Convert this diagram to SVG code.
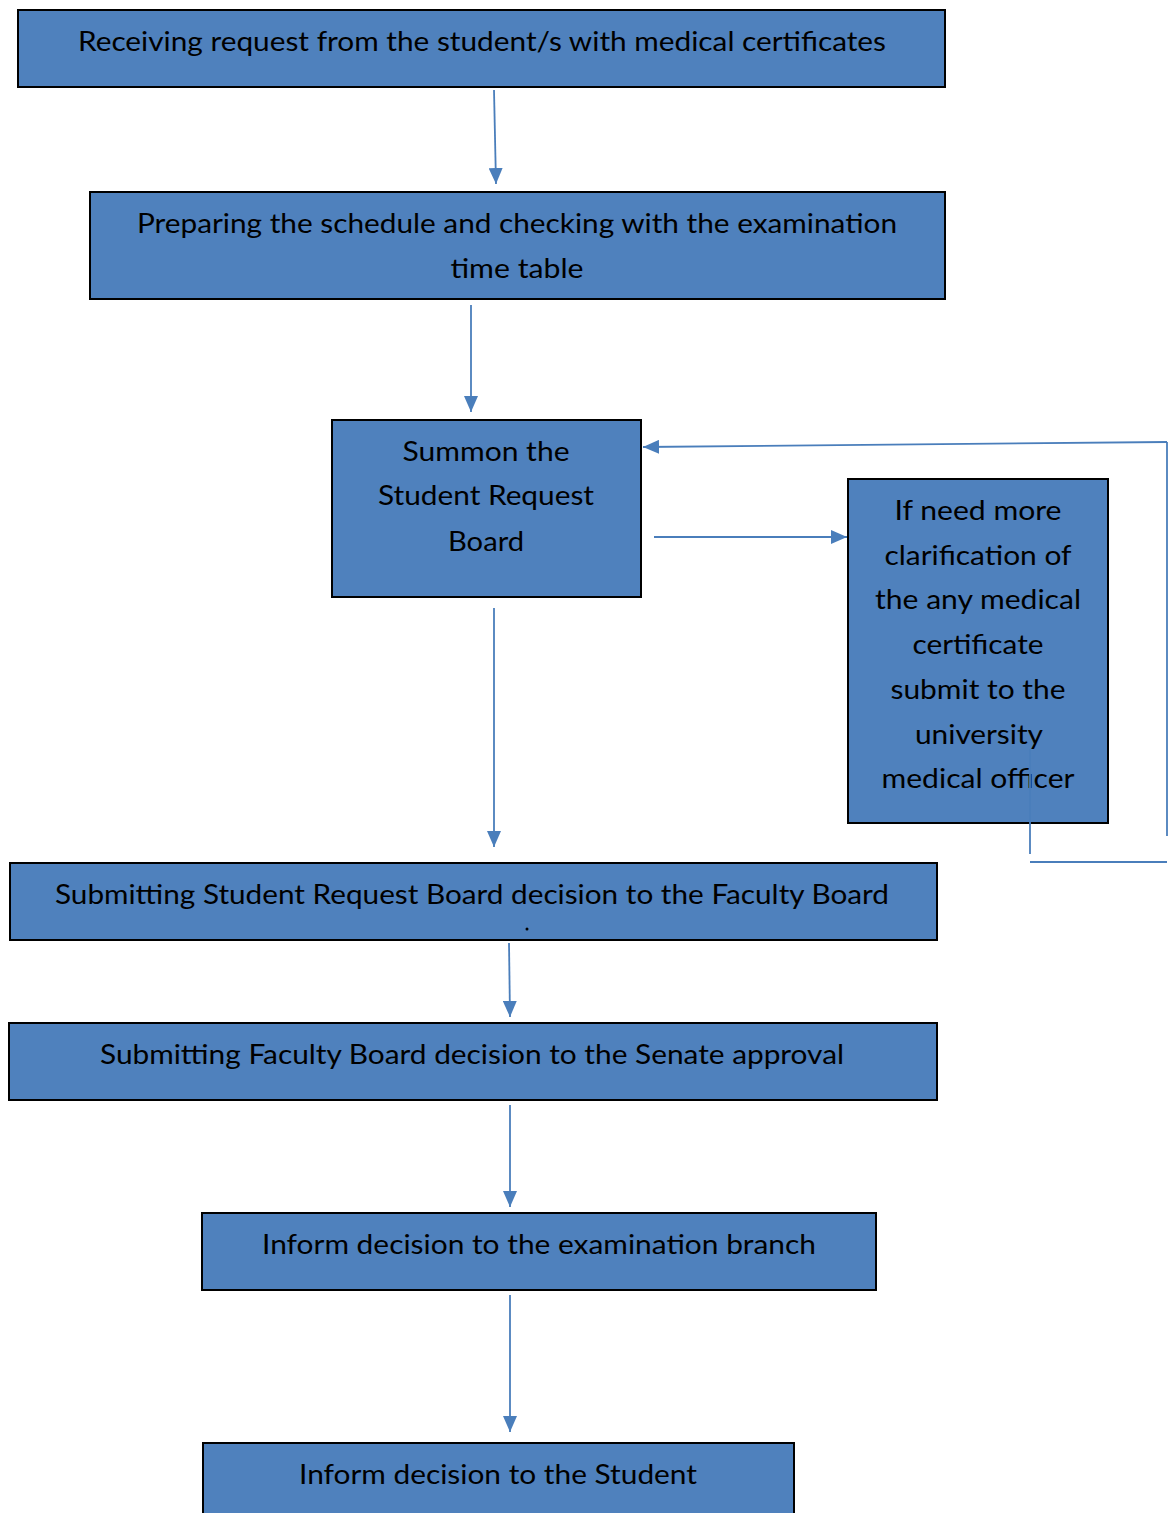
<svg xmlns="http://www.w3.org/2000/svg" width="1170" height="1513" viewBox="0 0 1170 1513">
  <defs>
    <marker id="arrow" viewBox="0 0 16 14" refX="16" refY="7" markerWidth="16" markerHeight="14" markerUnits="userSpaceOnUse" orient="auto">
      <path d="M0,0 L16,7 L0,14 Z" fill="#4a7ebb"/>
    </marker>
    <style>
      .box { fill: #4f81bd; stroke: #000; stroke-width: 2; }
      .lbl { font-family: Lato, "Open Sans", "Liberation Sans", sans-serif; font-size: 27px; fill: #000; text-anchor: middle; }
      .conn { stroke: #4a7ebb; stroke-width: 1.8; fill: none; }
      .arr { marker-end: url(#arrow); }
    </style>
  </defs>
  <rect width="1170" height="1513" fill="#fff"/>

  <g id="connectors">
    <line class="conn arr" x1="494" y1="90" x2="496" y2="184"/>
    <line class="conn arr" x1="471" y1="305" x2="471" y2="412"/>
    <line class="conn arr" x1="654" y1="537" x2="847" y2="537"/>
    <line class="conn arr" x1="494" y1="608" x2="494" y2="847"/>
    <line class="conn arr" x1="509" y1="943" x2="510" y2="1017"/>
    <line class="conn arr" x1="510" y1="1105" x2="510" y2="1207"/>
    <line class="conn arr" x1="510" y1="1295" x2="510" y2="1432"/>
    <!-- feedback loop back to the board -->
    <line class="conn arr" x1="1167" y1="442" x2="643" y2="447"/>
    <line class="conn" x1="1167" y1="442" x2="1167" y2="836"/>
    <line class="conn" x1="1030" y1="862" x2="1167" y2="862"/>
  </g>

  <g id="n1">
    <rect class="box" x="18" y="10" width="927" height="77"/>
    <text class="lbl" x="482" y="51" textLength="808" lengthAdjust="spacingAndGlyphs">Receiving request from the student/s with medical certificates</text>
  </g>

  <g id="n2">
    <rect class="box" x="90" y="192" width="855" height="107"/>
    <text class="lbl" x="517" y="233" textLength="760" lengthAdjust="spacingAndGlyphs">Preparing the schedule and checking with the examination</text>
    <text class="lbl" x="517" y="278" textLength="133" lengthAdjust="spacingAndGlyphs">time table</text>
  </g>

  <g id="n3">
    <rect class="box" x="332" y="420" width="309" height="177"/>
    <text class="lbl" x="486" y="461" textLength="167" lengthAdjust="spacingAndGlyphs">Summon the</text>
    <text class="lbl" x="486" y="505" textLength="216" lengthAdjust="spacingAndGlyphs">Student Request</text>
    <text class="lbl" x="486" y="551" textLength="76" lengthAdjust="spacingAndGlyphs">Board</text>
  </g>

  <g id="n4">
    <rect class="box" x="848" y="479" width="260" height="344"/>
    <text class="lbl" x="978" y="520" textLength="167" lengthAdjust="spacingAndGlyphs">If need more</text>
    <text class="lbl" x="978" y="565" textLength="187" lengthAdjust="spacingAndGlyphs">clarification of</text>
    <text class="lbl" x="978" y="609" textLength="206" lengthAdjust="spacingAndGlyphs">the any medical</text>
    <text class="lbl" x="978" y="654" textLength="131" lengthAdjust="spacingAndGlyphs">certificate</text>
    <text class="lbl" x="978" y="699" textLength="175" lengthAdjust="spacingAndGlyphs">submit to the</text>
    <text class="lbl" x="979" y="744" textLength="128" lengthAdjust="spacingAndGlyphs">university</text>
    <text class="lbl" x="978" y="788" textLength="193" lengthAdjust="spacingAndGlyphs">medical officer</text>
  </g>

  <!-- loop leg drawn over the clarification box -->
  <g id="loop-leg">
    <line class="conn" x1="1030" y1="749" x2="1030" y2="854"/>
  </g>

  <g id="n5">
    <rect class="box" x="10" y="863" width="927" height="77"/>
    <text class="lbl" x="472" y="904" textLength="834" lengthAdjust="spacingAndGlyphs">Submitting Student Request Board decision to the Faculty Board</text>
    <circle cx="527" cy="929" r="1.5" fill="#000"/>
  </g>

  <g id="n6">
    <rect class="box" x="9" y="1023" width="928" height="77"/>
    <text class="lbl" x="472" y="1064" textLength="744" lengthAdjust="spacingAndGlyphs">Submitting Faculty Board decision to the Senate approval</text>
  </g>

  <g id="n7">
    <rect class="box" x="202" y="1213" width="674" height="77"/>
    <text class="lbl" x="539" y="1254" textLength="554" lengthAdjust="spacingAndGlyphs">Inform decision to the examination branch</text>
  </g>

  <g id="n8">
    <rect class="box" x="203" y="1443" width="591" height="80"/>
    <text class="lbl" x="498" y="1484" textLength="398" lengthAdjust="spacingAndGlyphs">Inform decision to the Student</text>
  </g>
</svg>
